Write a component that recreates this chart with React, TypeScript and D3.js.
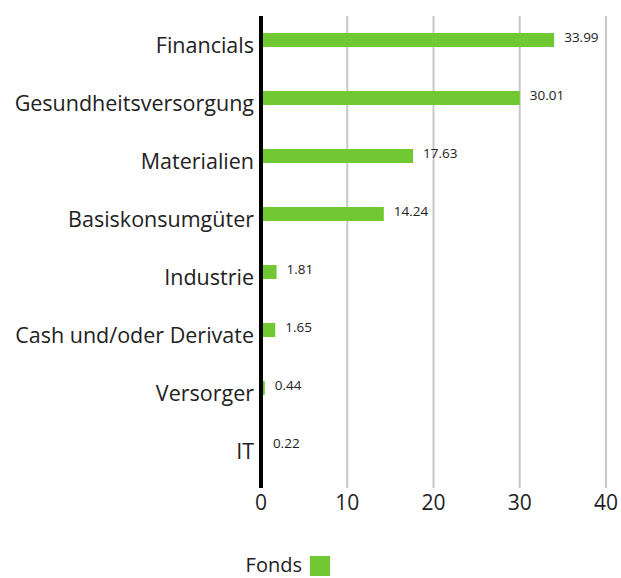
import React from "react";
import * as d3 from "d3";

const categories = ["Financials", "Gesundheitsversorgung", "Materialien", "Basiskonsumgüter", "Industrie", "Cash und/oder Derivate", "Versorger", "IT"];
const values = [33.99, 30.01, 17.63, 14.24, 1.81, 1.65, 0.44, 0.22];
const ticks = [0, 10, 20, 30, 40];
const seriesName = "Fonds";

const W = 621, H = 578;
const FONT = "'Open Sans', sans-serif";
const GREEN = "#72c832";

export default function App() {
  const x = d3.scaleLinear().domain([0, 40]).range([261, 606]);
  const y = d3.scaleBand<string>().domain(categories).range([18, 482]);
  const barH = 14;
  return (
    <svg width={W} height={H} style={{ position: "absolute", left: 0, top: 0 }} fontFamily={FONT}>
      {ticks.slice(1).map((t) => (
        <line key={t} x1={x(t)} x2={x(t)} y1={16} y2={488} stroke="#c8c8c8" strokeWidth={2} />
      ))}
      {categories.map((c, i) => {
        const cy = (y(c) as number) + 22;
        return (
          <g key={c}>
            <rect x={x(0)} y={cy - barH / 2} width={x(values[i]) - x(0)} height={barH} fill={GREEN} />
            <text x={x(values[i]) + 10} y={cy - 2} fontSize={13.5} dominantBaseline="middle" fill="#222">{values[i].toFixed(2)}</text>
            <text x={254} y={cy + 7} fontSize={21.5} textAnchor="end" dominantBaseline="middle" fill="#222">{c}</text>
          </g>
        );
      })}
      <line x1={x(0)} x2={x(0)} y1={16} y2={488} stroke="#000" strokeWidth={4} />
      {ticks.map((t) => (
        <text key={t} x={x(t)} y={504} fontSize={21} textAnchor="middle" dominantBaseline="middle" fill="#222">{t}</text>
      ))}
      <text x={302} y={567} fontSize={20} textAnchor="end" dominantBaseline="middle" fill="#222">{seriesName}</text>
      <rect x={310} y={556} width={20} height={20} fill={GREEN} />
    </svg>
  );
}
